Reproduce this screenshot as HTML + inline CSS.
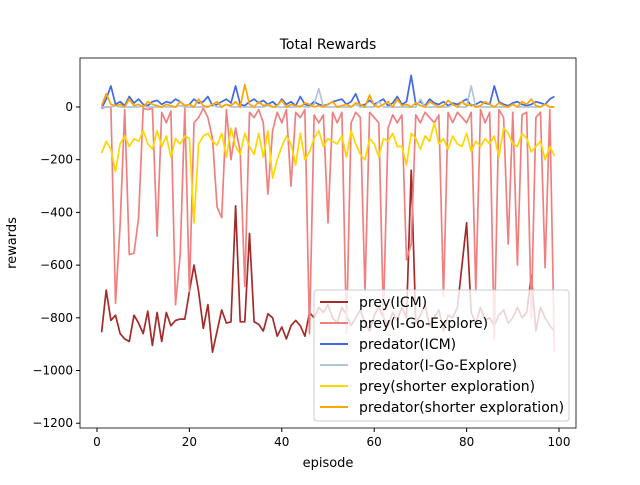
<!DOCTYPE html>
<html><head><meta charset="utf-8"><style>
body{margin:0;background:#fff}
svg{font-family:"DejaVu Sans","Liberation Sans",sans-serif}
</style></head><body>
<svg id="c" width="640" height="480" xmlns="http://www.w3.org/2000/svg"></svg>
<script>
const episodes=[];for(let i=1;i<=99;i++)episodes.push(i);
const preyICM=[-855,-695,-810,-790,-860,-880,-890,-790,-820,-860,-775,-905,-780,-890,-780,-830,-810,-805,-805,-700,-600,-700,-840,-750,-930,-850,-770,-820,-815,-375,-815,-815,-480,-815,-825,-850,-785,-800,-870,-835,-880,-830,-810,-830,-870,-780,-800,-760,-780,-750,-800,-820,-760,-790,-830,-800,-770,-820,-850,-790,-760,-800,-830,-780,-810,-760,-800,-240,-820,-790,-750,-830,-800,-770,-850,-790,-800,-760,-600,-440,-780,-820,-760,-810,-800,-830,-790,-770,-820,-800,-760,-800,-780,-640,-850,-760,-800,-830,-850];
const preyIGE=[-5,0,0,-745,-450,-10,-560,-555,-420,-5,-10,-5,-490,-20,-60,-15,-750,-560,-5,-700,-60,-40,-5,-40,-120,-380,-420,-10,-200,-80,-170,-680,-20,-40,-10,-60,-330,-90,-20,-60,-10,-300,-20,-40,-10,-860,-30,-60,-30,-440,-20,-60,-20,-860,-60,-20,-40,-700,-20,-40,-60,-800,-80,-30,-60,-30,-580,-520,-30,-60,-20,-40,-60,-30,-720,-20,-60,-20,-40,-60,-20,-700,-10,-60,-20,-880,-10,-40,-520,-20,-600,-30,-20,-800,-40,-20,-610,-10,-930];
const predICM=[-5,30,80,10,20,5,40,15,30,10,5,20,25,10,20,15,30,20,5,10,30,15,20,40,5,10,20,30,15,80,10,5,20,30,15,25,10,20,5,30,10,20,5,40,10,5,20,10,5,10,20,25,30,10,20,50,5,10,25,10,20,30,5,15,40,10,20,120,10,20,5,30,15,10,20,5,15,10,20,30,5,10,20,15,10,80,20,10,5,15,20,10,5,10,20,15,10,30,40];
const predIGE=[0,0,0,5,0,0,0,0,0,5,0,0,0,0,0,0,0,5,0,0,0,0,0,0,10,0,0,10,0,0,0,0,0,0,0,0,5,0,0,0,0,0,0,5,0,0,10,70,0,0,0,0,0,0,0,10,0,0,0,0,20,0,0,0,0,0,0,0,0,30,0,0,0,0,0,0,10,0,0,0,80,0,0,0,0,0,0,0,0,10,0,0,0,0,0,0,10,0,0];
const preySE=[-175,-130,-160,-245,-140,-110,-150,-120,-130,-90,-140,-160,-90,-150,-110,-190,-120,-140,-110,-120,-440,-140,-110,-100,-130,-145,-100,-190,-80,-150,-180,-100,-150,-180,-100,-190,-90,-270,-200,-150,-110,-140,-220,-100,-200,-170,-120,-90,-150,-120,-130,-140,-110,-190,-90,-140,-180,-200,-120,-140,-190,-120,-130,-100,-150,-150,-220,-100,-120,-160,-110,-130,-60,-140,-120,-160,-110,-140,-150,-100,-170,-130,-150,-120,-140,-110,-190,-80,-100,-140,-150,-100,-120,-170,-150,-130,-200,-150,-185];
const predSE=[5,50,10,5,10,0,30,5,10,0,20,10,5,0,10,5,0,20,5,10,0,30,5,0,10,20,0,10,5,20,0,85,10,0,20,5,10,0,5,25,0,10,5,0,15,10,0,5,0,10,20,0,5,10,0,15,10,0,45,5,0,10,20,0,30,5,10,0,15,5,0,20,10,0,5,25,10,0,20,5,10,0,5,20,10,0,15,5,0,10,0,20,10,30,5,0,10,0,0];
const xTicks=[0,20,40,60,80,100];
const yTicks=[0,-200,-400,-600,-800,-1000,-1200];
const L=80,R=576,T=58,B=428;
const X=v=>97+v*4.62;
const Y=v=>107-v*0.2635;
const svg=document.getElementById('c');
const NS='http://www.w3.org/2000/svg';
function mk(t,a,p){const e=document.createElementNS(NS,t);for(const k in a)e.setAttribute(k,a[k]);(p||svg).appendChild(e);return e;}
const title=mk('text',{x:328,y:49,'text-anchor':'middle','font-size':14});title.textContent='Total Rewards';


const series=[[preyICM,'#a52a2a',1,'prey(ICM)'],[preyIGE,'#f08080',1,'prey(I-Go-Explore)'],[predICM,'#4169e1',1,'predator(ICM)'],[predIGE,'#b0c4de',1,'predator(I-Go-Explore)'],[preySE,'#ffd700',1,'prey(shorter exploration)'],[predSE,'#ffa500',1,'predator(shorter exploration)']];
series.forEach(s=>{
 const d=s[0].map((v,i)=>(i?'L':'M')+X(episodes[i]).toFixed(1)+','+Y(v).toFixed(1)).join('');
 const p=mk('path',{d:d,fill:'none',stroke:s[1],'stroke-width':1.7,'stroke-linejoin':'round'});
 
 
});
mk('rect',{x:L,y:T,width:R-L,height:B-T,fill:'none',stroke:'#000','stroke-width':0.8});
xTicks.forEach(v=>{mk('line',{x1:X(v),x2:X(v),y1:B,y2:B+4,stroke:'#000'});const t=mk('text',{x:X(v),y:B+18,'text-anchor':'middle','font-size':12});t.textContent=v;
 
 });
yTicks.forEach(v=>{mk('line',{x1:L-4,x2:L,y1:Y(v),y2:Y(v),stroke:'#000'});const t=mk('text',{x:L-7,y:Y(v)+4,'text-anchor':'end','font-size':12});t.textContent=v===0?'0':'\u2212'+(-v);
 
 });
const xl=mk('text',{x:328,y:467,'text-anchor':'middle','font-size':13});xl.textContent='episode';


const yl=mk('text',{x:16,y:243,'text-anchor':'middle','font-size':13,transform:'rotate(-90 16 243)'});yl.textContent='rewards';


const lg=mk('g',{});


mk('rect',{x:314,y:290,width:255,height:131,rx:3,fill:'#fff','fill-opacity':0.8,stroke:'#ccc'},lg);
series.forEach((s,i)=>{const y=302+i*21;mk('line',{x1:320,x2:348,y1:y,y2:y,stroke:s[1],'stroke-width':2},lg);const t=mk('text',{x:359,y:y+5,'font-size':14},lg);t.textContent=s[3];
 
 });
</script>
</body></html>
